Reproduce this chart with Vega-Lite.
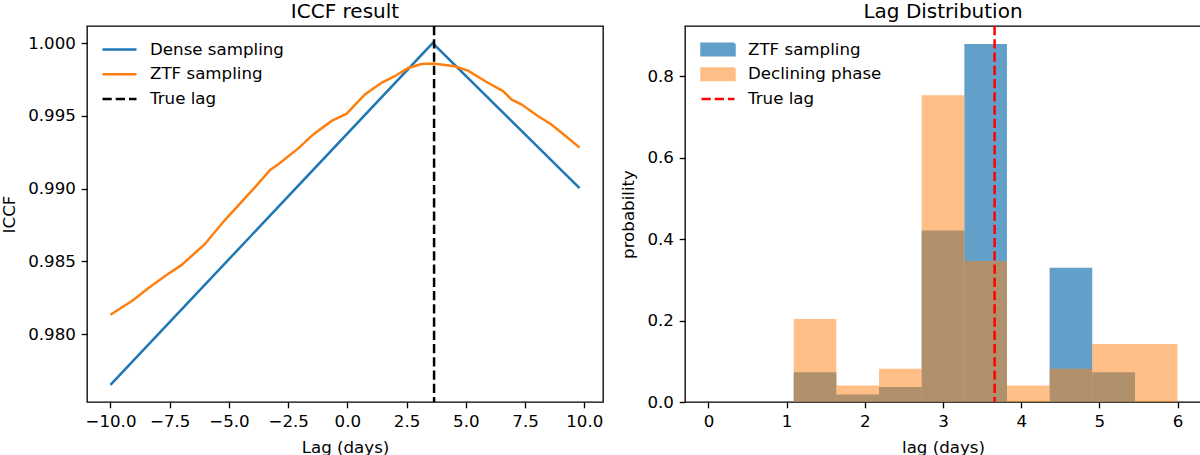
{
  "$schema": "https://vega.github.io/schema/vega-lite/v6.json",
  "autosize": {"type": "pad"},
  "padding": {"left": 1, "top": 1, "right": 0, "bottom": 0},
  "bounds": "flush",
  "spacing": 82,
  "config": {
    "font": "DejaVu Sans",
    "view": {"stroke": "black", "strokeWidth": 1.33},
    "axis": {
      "grid": false,
      "domain": false,
      "tickColor": "black",
      "tickSize": 5.8,
      "tickWidth": 1.33,
      "labelFontSize": 16.67,
      "labelColor": "black",
      "labelPadding": 5.8,
      "titleFontSize": 16.67,
      "titleFontWeight": "normal",
      "titleColor": "black"
    },
    "axisX": {"titlePadding": 9},
    "axisY": {"titlePadding": 9},
    "title": {"fontSize": 20, "fontWeight": "normal", "color": "black", "baseline": "alphabetic", "offset": 3, "anchor": "middle"},
    "legend": {
      "orient": "none",
      "title": null,
      "padding": 0,
      "labelFontSize": 16.67,
      "labelColor": "black",
      "labelOffset": 12,
      "rowPadding": 6.7,
      "clipHeight": 17
    }
  },
  "datasets": {
    "iccf": [
      {"lag": -10.0, "iccf": 0.97652, "series": "Dense sampling"},
      {"lag": 3.6, "iccf": 1.0, "series": "Dense sampling"},
      {"lag": 9.8, "iccf": 0.99003, "series": "Dense sampling"},
      {"lag": -10.0, "iccf": 0.98134, "series": "ZTF sampling"},
      {"lag": -9.05, "iccf": 0.98234, "series": "ZTF sampling"},
      {"lag": -8.42, "iccf": 0.98314, "series": "ZTF sampling"},
      {"lag": -7.65, "iccf": 0.98405, "series": "ZTF sampling"},
      {"lag": -7.02, "iccf": 0.98473, "series": "ZTF sampling"},
      {"lag": -6.03, "iccf": 0.98617, "series": "ZTF sampling"},
      {"lag": -5.19, "iccf": 0.98781, "series": "ZTF sampling"},
      {"lag": -4.03, "iccf": 0.98986, "series": "ZTF sampling"},
      {"lag": -3.26, "iccf": 0.99128, "series": "ZTF sampling"},
      {"lag": -2.9, "iccf": 0.99169, "series": "ZTF sampling"},
      {"lag": -2.06, "iccf": 0.99278, "series": "ZTF sampling"},
      {"lag": -1.43, "iccf": 0.99374, "series": "ZTF sampling"},
      {"lag": -0.66, "iccf": 0.99465, "series": "ZTF sampling"},
      {"lag": -0.03, "iccf": 0.99515, "series": "ZTF sampling"},
      {"lag": 0.74, "iccf": 0.99647, "series": "ZTF sampling"},
      {"lag": 1.44, "iccf": 0.99727, "series": "ZTF sampling"},
      {"lag": 2.0, "iccf": 0.99772, "series": "ZTF sampling"},
      {"lag": 2.57, "iccf": 0.99829, "series": "ZTF sampling"},
      {"lag": 3.13, "iccf": 0.99856, "series": "ZTF sampling"},
      {"lag": 3.62, "iccf": 0.9986, "series": "ZTF sampling"},
      {"lag": 4.53, "iccf": 0.99841, "series": "ZTF sampling"},
      {"lag": 5.09, "iccf": 0.99811, "series": "ZTF sampling"},
      {"lag": 5.93, "iccf": 0.99727, "series": "ZTF sampling"},
      {"lag": 6.57, "iccf": 0.9967, "series": "ZTF sampling"},
      {"lag": 6.92, "iccf": 0.99613, "series": "ZTF sampling"},
      {"lag": 7.34, "iccf": 0.99579, "series": "ZTF sampling"},
      {"lag": 8.04, "iccf": 0.99499, "series": "ZTF sampling"},
      {"lag": 8.6, "iccf": 0.99442, "series": "ZTF sampling"},
      {"lag": 9.16, "iccf": 0.99369, "series": "ZTF sampling"},
      {"lag": 9.8, "iccf": 0.99282, "series": "ZTF sampling"}
    ],
    "truelag_left": [{"lag": 3.66, "series": "True lag"}],
    "truelag_right": [{"lag": 3.66, "series": "True lag"}],
    "hist": [
      {"x0": 1.091, "x1": 1.636, "density": 0.0733, "series": "ZTF sampling"},
      {"x0": 1.636, "x1": 2.182, "density": 0.0183, "series": "ZTF sampling"},
      {"x0": 2.182, "x1": 2.727, "density": 0.0367, "series": "ZTF sampling"},
      {"x0": 2.727, "x1": 3.273, "density": 0.4217, "series": "ZTF sampling"},
      {"x0": 3.273, "x1": 3.818, "density": 0.88, "series": "ZTF sampling"},
      {"x0": 4.364, "x1": 4.909, "density": 0.33, "series": "ZTF sampling"},
      {"x0": 4.909, "x1": 5.455, "density": 0.0733, "series": "ZTF sampling"},
      {"x0": 1.091, "x1": 1.636, "density": 0.2037, "series": "Declining phase"},
      {"x0": 1.636, "x1": 2.182, "density": 0.0407, "series": "Declining phase"},
      {"x0": 2.182, "x1": 2.727, "density": 0.0815, "series": "Declining phase"},
      {"x0": 2.727, "x1": 3.273, "density": 0.7537, "series": "Declining phase"},
      {"x0": 3.273, "x1": 3.818, "density": 0.3463, "series": "Declining phase"},
      {"x0": 3.818, "x1": 4.364, "density": 0.0407, "series": "Declining phase"},
      {"x0": 4.364, "x1": 4.909, "density": 0.0815, "series": "Declining phase"},
      {"x0": 4.909, "x1": 5.455, "density": 0.1426, "series": "Declining phase"},
      {"x0": 5.455, "x1": 6.0, "density": 0.1426, "series": "Declining phase"}
    ]
  },
  "hconcat": [
    {
      "title": "ICCF result",
      "width": 516,
      "height": 376,
      "layer": [
        {
          "data": {"name": "iccf"},
          "mark": {"type": "line", "strokeWidth": 2.5, "clip": true},
          "encoding": {
            "x": {"field": "lag", "type": "quantitative"},
            "y": {
              "field": "iccf", "type": "quantitative",
              "scale": {"domain": [0.97535, 1.00117], "nice": false, "zero": false},
              "axis": {"title": "ICCF", "values": [0.98, 0.985, 0.99, 0.995, 1.0], "format": ".3f"}
            },
            "color": {"field": "series", "type": "nominal"}
          }
        },
        {
          "data": {"name": "truelag_left"},
          "mark": {"type": "rule", "strokeWidth": 2.5, "strokeDash": [9.25, 4]},
          "encoding": {
            "x": {"field": "lag", "type": "quantitative"},
            "color": {"field": "series", "type": "nominal"}
          }
        }
      ],
      "encoding": {
        "x": {
          "field": "lag", "type": "quantitative",
          "scale": {"domain": [-10.99, 10.79], "nice": false, "zero": false},
          "axis": {"title": "Lag (days)", "values": [-10, -7.5, -5, -2.5, 0, 2.5, 5, 7.5, 10], "format": ".1f"}
        },
        "color": {
          "field": "series", "type": "nominal",
          "scale": {"domain": ["Dense sampling", "ZTF sampling", "True lag"], "range": ["#1f77b4", "#ff7f0e", "#000000"]},
          "legend": {
            "legendX": 14,
            "legendY": 15,
            "symbolType": "stroke",
            "symbolSize": 1156,
            "symbolStrokeWidth": 2.5,
            "encode": {
              "symbols": {
                "update": {
                  "shape": {"value": "stroke"},
                  "strokeWidth": {"value": 2.5},
                  "strokeDash": {"signal": "datum.value === 'True lag' ? [9.25, 4] : [1, 0]"}
                }
              }
            }
          }
        }
      }
    },
    {
      "title": "Lag Distribution",
      "width": 516,
      "height": 376,
      "layer": [
        {
          "data": {"name": "hist"},
          "mark": {"type": "rect"},
          "encoding": {
            "x": {"field": "x0", "type": "quantitative"},
            "x2": {"field": "x1"},
            "y": {"field": "density", "type": "quantitative"},
            "y2": {"datum": 0},
            "color": {"field": "series", "type": "nominal"},
            "opacity": {
              "field": "series", "type": "nominal",
              "scale": {"domain": ["ZTF sampling", "Declining phase"], "range": [0.7, 0.5]},
              "legend": null
            }
          }
        },
        {
          "data": {"name": "truelag_right"},
          "mark": {"type": "rule", "strokeWidth": 2.5, "strokeDash": [9.25, 4]},
          "encoding": {
            "x": {"field": "lag", "type": "quantitative"},
            "color": {"field": "series", "type": "nominal"}
          }
        }
      ],
      "encoding": {
        "x": {
          "type": "quantitative",
          "scale": {"domain": [-0.3, 6.3], "nice": false, "zero": false},
          "axis": {"title": "lag (days)", "values": [0, 1, 2, 3, 4, 5, 6], "format": "d"}
        },
        "y": {
          "type": "quantitative",
          "scale": {"domain": [0, 0.924], "nice": false},
          "axis": {"title": "probability", "values": [0, 0.2, 0.4, 0.6, 0.8], "format": ".1f"}
        },
        "color": {
          "field": "series", "type": "nominal",
          "scale": {"domain": ["ZTF sampling", "Declining phase", "True lag"], "range": ["#1f77b4", "#ff7f0e", "#ff0000"]},
          "legend": {
            "legendX": 15,
            "legendY": 15,
            "symbolSize": 1089,
            "encode": {
              "symbols": {
                "update": {
                  "shape": {"signal": "datum.value === 'True lag' ? 'stroke' : 'M-1,-0.35H1V0.35H-1Z'"},
                  "fill": {"signal": "datum.value === 'ZTF sampling' ? '#1f77b4' : datum.value === 'Declining phase' ? '#ff7f0e' : 'transparent'"},
                  "stroke": {"signal": "datum.value === 'True lag' ? '#ff0000' : 'transparent'"},
                  "opacity": {"signal": "datum.value === 'ZTF sampling' ? 0.7 : datum.value === 'Declining phase' ? 0.5 : 1"},
                  "strokeWidth": {"value": 2.5},
                  "strokeDash": {"signal": "datum.value === 'True lag' ? [9.25, 4] : [1, 0]"}
                }
              }
            }
          }
        }
      }
    }
  ],
  "resolve": {
    "scale": {"color": "independent", "opacity": "independent", "x": "independent", "y": "independent"},
    "legend": {"color": "independent"}
  }
}
